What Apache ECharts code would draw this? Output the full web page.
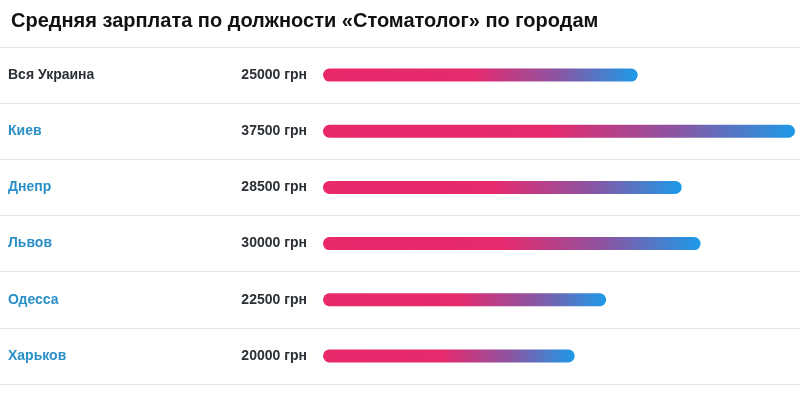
<!DOCTYPE html>
<html>
<head>
<meta charset="utf-8">
<script src="https://cdn.jsdelivr.net/npm/echarts@6/dist/echarts.min.js"></script>
<style>
	html, body { margin: 0; padding: 0; background: #fff; }
	#chart { width: 800px; height: 402px; }
</style>
</head>
<body>
<div id="chart"></div>
<script>
var title = 'Средняя зарплата по должности «Стоматолог» по городам';
var cities = ['Вся Украина', 'Киев', 'Днепр', 'Львов', 'Одесса', 'Харьков'];
var salaries = [25000, 37500, 28500, 30000, 22500, 20000];
var unit = 'грн';

var chart = echarts.init(document.getElementById('chart'));
var font = '"Liberation Sans", Arial, sans-serif';

chart.setOption({
	animation: false,
	title: {
		text: title,
		left: 6, top: 6,
		textStyle: { fontSize: 20, fontWeight: 'bold', color: '#111', fontFamily: font }
	},
	grid: [
		{ left: 323, right: 5, top: 47, bottom: 18 },
		{ left: 0, right: 0, top: 47, bottom: 18 }
	],
	xAxis: [
		{ gridIndex: 0, type: 'value', min: 0, max: 37500, show: false },
		{ gridIndex: 1, type: 'value', show: false }
	],
	yAxis: [
		{
			gridIndex: 0, type: 'category', data: cities, inverse: true,
			axisLine: { show: false }, axisTick: { show: false },
			axisLabel: {
				align: 'left', margin: 315,
				formatter: function (v, i) { return i === 0 ? '{a|' + v + '}' : '{b|' + v + '}'; },
				rich: {
					a: { color: '#2b2f36', fontSize: 14, fontWeight: 'bold', fontFamily: font },
					b: { color: '#2a90c8', fontSize: 14, fontWeight: 'bold', fontFamily: font }
				}
			}
		},
		{
			gridIndex: 1, type: 'category', data: cities, inverse: true,
			axisLine: { show: false }, axisTick: { show: false }, axisLabel: { show: false },
			splitLine: { show: true, lineStyle: { color: '#e6e6e6', width: 1 } }
		}
	],
	series: [{
		type: 'bar',
		xAxisIndex: 0, yAxisIndex: 0,
		data: salaries,
		barWidth: 13,
		itemStyle: {
			borderRadius: 7,
			color: new echarts.graphic.LinearGradient(0, 0, 1, 0, [
				{ offset: 0, color: '#e8286b' },
				{ offset: 0.48, color: '#e52a6e' },
				{ offset: 0.75, color: '#8a55a3' },
				{ offset: 1, color: '#1c9ae8' }
			])
		},
		label: {
			show: true, position: 'left', distance: 16,
			formatter: function (p) { return p.value + ' ' + unit; },
			color: '#2b2f36', fontSize: 14, fontWeight: 'bold', fontFamily: font
		}
	}]
});
</script>
</body>
</html>
